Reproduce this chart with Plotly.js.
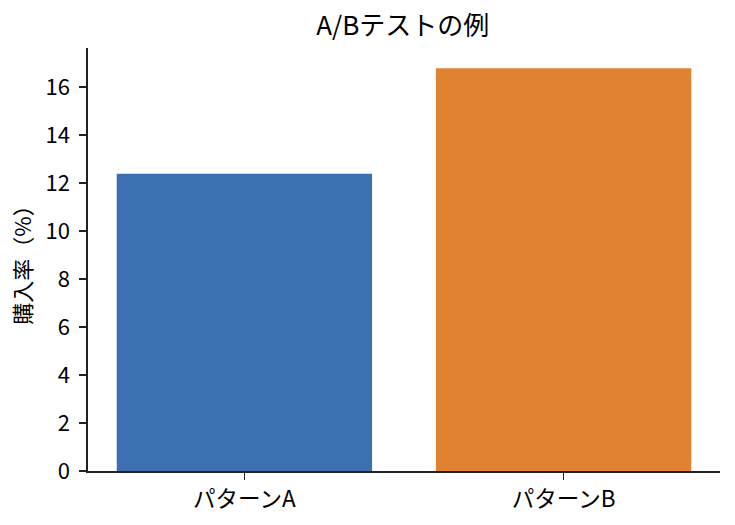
<!DOCTYPE html>
<html><head><meta charset="utf-8">
<script src="https://cdn.plot.ly/plotly-3.0.1.min.js"></script>
<style>body{margin:0;background:#fff}#c{width:735px;height:525px}</style>
</head><body><div id="c"></div>
<script>
const categories = ["パターンA", "パターンB"];
const rates = [12.4, 16.8];
const colors = ["#3d70b0", "#e18132"];
const yTicks = [0, 2, 4, 6, 8, 10, 12, 14, 16];

const font = "Noto Sans CJK JP, sans-serif";
Plotly.newPlot("c", [{
  type: "bar", x: categories, y: rates,
  marker: {color: colors}, width: 0.8, hoverinfo: "none"
}], {
  width: 735, height: 525,
  margin: {l: 88, r: 15, t: 48, b: 54},
  paper_bgcolor: "#fff", plot_bgcolor: "#fff",
  font: {family: font, size: 22, color: "#000"},
  title: {text: "A/Bテストの例", x: 0.548, xanchor: "center", y: 0.95, yanchor: "middle", font: {size: 26}},
  xaxis: {range: [-0.49, 1.49], showline: true, linecolor: "#222", linewidth: 1.7,
          ticks: "outside", ticklen: 7, tickwidth: 1.7, tickcolor: "#222", showgrid: false, zeroline: false,
          tickfont: {size: 22.5}, ticklabelstandoff: 0},
  yaxis: {range: [0, 17.64], tickvals: yTicks, showline: true, linecolor: "#222", linewidth: 1.7,
          ticks: "outside", ticklen: 7, tickwidth: 1.7, tickcolor: "#222", showgrid: false, zeroline: false,
          tickfont: {size: 22}, ticklabelstandoff: 5,
          title: {text: "購入率（%）", standoff: 8, font: {size: 22}}},
  showlegend: false
}, {staticPlot: true});
</script></body></html>
